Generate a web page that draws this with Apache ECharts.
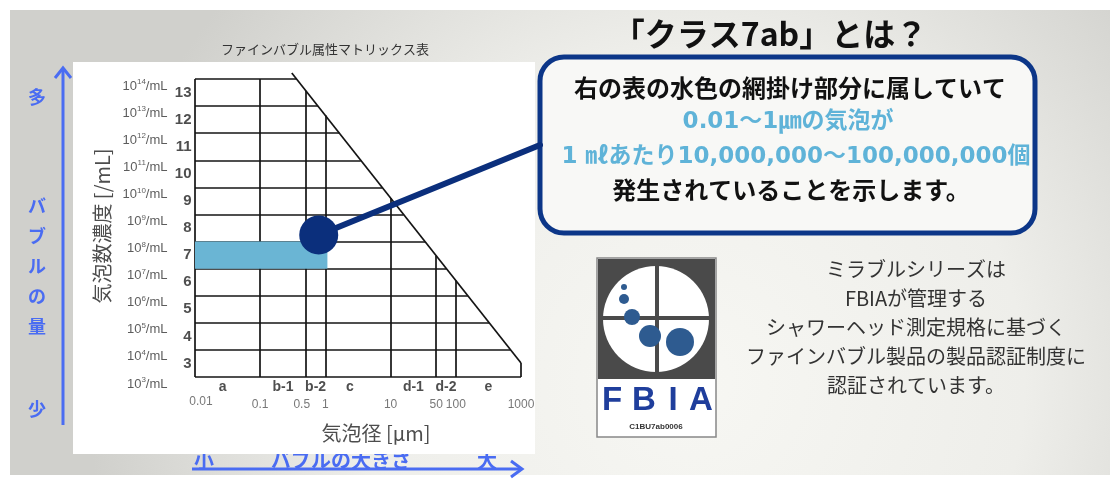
<!DOCTYPE html>
<html><head><meta charset="utf-8">
<script src="https://cdn.jsdelivr.net/npm/echarts@6/dist/echarts.min.js"></script>
<style>html,body{margin:0;padding:0;background:#fff}#c{width:1115px;height:482px}</style>
</head><body><div id="c"></div>
<script>
// ---- data ----
const sizeTicks = [0.01, 0.1, 0.5, 1, 10, 50, 100, 1000];
const sizeTickLabels = ['0.01', '0.1', '0.5', '1', '10', '50', '100', '1000'];
const sizeClasses = ['a', 'b-1', 'b-2', 'c', 'd-1', 'd-2', 'e'];
const concExponents = [3, 4, 5, 6, 7, 8, 9, 10, 11, 12, 13, 14];
const classNumbers = [3, 4, 5, 6, 7, 8, 9, 10, 11, 12, 13];
const limitLine = [[0.305, 1.66e14], [1000, 3.3e3]];
const highlight = [[0.01, 1, 1e7, 1e8]];
const markerPoint = [[0.79, 1.74e8]];
const boxLines = ['右の表の水色の網掛け部分に属していて', '0.01～1㎛の気泡が', '1 ㎖あたり10,000,000～100,000,000個', '発生されていることを示します。'];
const sideLines = ['ミラブルシリーズは', 'FBIAが管理する', 'シャワーヘッド測定規格に基づく', 'ファインバブル製品の製品認証制度に', '認証されています。'];

const JP = '"Noto Sans CJK JP", "Noto Sans", sans-serif';
const L0 = [Math.log10(limitLine[0][0]), Math.log10(limitLine[0][1])];
const L1 = [Math.log10(limitLine[1][0]), Math.log10(limitLine[1][1])];
function limitXAt(y) { const t = (Math.log10(y) - L0[1]) / (L1[1] - L0[1]); return Math.pow(10, L0[0] + t * (L1[0] - L0[0])); }
function limitYAt(x) { const t = (Math.log10(x) - L0[0]) / (L1[0] - L0[0]); return Math.pow(10, L0[1] + t * (L1[1] - L0[1])); }
const xMin = sizeTicks[0], xMax = sizeTicks[sizeTicks.length - 1];
const yMin = Math.pow(10, concExponents[0]), yMax = Math.pow(10, concExponents[concExponents.length - 1]);

const segs = [];
concExponents.forEach(k => { const y = Math.pow(10, k); segs.push([[xMin, y], [Math.min(xMax, limitXAt(y)), y]]); });
sizeTicks.forEach(x => { segs.push([[x, yMin], [x, Math.min(yMax, limitYAt(x))]]); });
segs.push(limitLine);

const catOffsets = { 'a': -5, 'c': -8 };
const tickOffsets = { '0.01': [6, -3], '0.5': [-4, 0] };

const chart = echarts.init(document.getElementById('c'), null, { renderer: 'canvas' });

const BLUE = '#4a6cf2';
const gfx = [
  { type: 'rect', z: -20, shape: { x: 10, y: 10, width: 1100, height: 465 },
    style: { fill: { type: 'radial', x: 0.62, y: 0.8, r: 1.3, colorStops: [{ offset: 0, color: '#f7f7f3' }, { offset: 0.55, color: '#eeeeea' }, { offset: 1, color: '#d0d0cc' }] } } },
  // bottom blue label (partly covered by the white panel)
  { type: 'text', z: -15, style: { x: 204, y: 470, text: '小', font: 'bold 20px ' + JP, fill: BLUE, align: 'center', verticalAlign: 'bottom' } },
  { type: 'text', z: -15, style: { x: 341, y: 470, text: 'バブルの大きさ', font: 'bold 20px ' + JP, fill: BLUE, align: 'center', verticalAlign: 'bottom' } },
  { type: 'text', z: -15, style: { x: 487, y: 470, text: '大', font: 'bold 20px ' + JP, fill: BLUE, align: 'center', verticalAlign: 'bottom' } },
  { type: 'rect', z: -10, shape: { x: 73, y: 62, width: 462, height: 392 }, style: { fill: '#ffffff' } },
  { type: 'line', z: -5, shape: { x1: 192, y1: 469, x2: 522, y2: 469 }, style: { stroke: BLUE, lineWidth: 3 } },
  { type: 'polyline', z: -5, shape: { points: [[511, 461], [522, 469], [511, 477]] }, style: { stroke: BLUE, lineWidth: 3, fill: null } },
  { type: 'line', z: -5, shape: { x1: 63, y1: 425, x2: 63, y2: 68 }, style: { stroke: BLUE, lineWidth: 3 } },
  { type: 'polyline', z: -5, shape: { points: [[55, 78], [63, 68], [71, 78]] }, style: { stroke: BLUE, lineWidth: 3, fill: null } },
  { type: 'text', z: -5, style: { x: 37, y: 97, text: '多', font: 'bold 18px ' + JP, fill: BLUE, align: 'center', verticalAlign: 'middle' } },
  { type: 'text', z: -5, style: { x: 37, y: 266, text: 'バ\nブ\nル\nの\n量', font: 'bold 18px ' + JP, lineHeight: 30, fill: BLUE, align: 'center', verticalAlign: 'middle' } },
  { type: 'text', z: -5, style: { x: 37, y: 409, text: '少', font: 'bold 18px ' + JP, fill: BLUE, align: 'center', verticalAlign: 'middle' } },
  // chart titles
  { type: 'text', z: -5, style: { x: 325, y: 49, text: 'ファインバブル属性マトリックス表', font: '13px ' + JP, fill: '#333', align: 'center', verticalAlign: 'middle' } },
  { type: 'text', z: -5, x: 102, y: 226, rotation: Math.PI / 2, style: { x: 0, y: 0, text: '気泡数濃度 [/mL]', font: '20px ' + JP, fill: '#4d4d4d', align: 'center', verticalAlign: 'middle' } },
  { type: 'text', z: -5, style: { x: 376, y: 433, text: '気泡径 [µm]', font: '20px ' + JP, fill: '#4d4d4d', align: 'center', verticalAlign: 'middle' } },
  // callout
  { type: 'text', z: -5, style: { x: 770, y: 34, text: '「クラス7ab」とは？', font: 'bold 32px ' + JP, fill: '#111', align: 'center', verticalAlign: 'middle' } },
  { type: 'rect', z: -5, shape: { x: 540, y: 57, width: 495, height: 176, r: 24 }, style: { fill: '#f8f8f6', stroke: '#0c3688', lineWidth: 5 } },
  { type: 'text', z: -4, style: { x: 790, y: 88, text: boxLines[0], font: 'bold 24px ' + JP, fill: '#111', align: 'center', verticalAlign: 'middle' } },
  { type: 'text', z: -4, style: { x: 788, y: 122, text: boxLines[1], font: 'bold 23px "DejaVu Sans", ' + JP, fill: '#5fb3d8', align: 'center', verticalAlign: 'middle' } },
  { type: 'text', z: -4, style: { x: 796, y: 157, text: boxLines[2], font: 'bold 23px "DejaVu Sans", ' + JP, fill: '#5fb3d8', align: 'center', verticalAlign: 'middle' } },
  { type: 'text', z: -4, style: { x: 791, y: 190, text: boxLines[3], font: 'bold 24px ' + JP, fill: '#111', align: 'center', verticalAlign: 'middle' } },
  // FBIA logo
  { type: 'rect', z: -5, shape: { x: 597, y: 258, width: 119, height: 179 }, style: { fill: '#ffffff', stroke: '#888', lineWidth: 1.5 } },
  { type: 'rect', z: -4, shape: { x: 598, y: 259, width: 117, height: 120 }, style: { fill: '#4a4a4a' } },
  { type: 'circle', z: -3, shape: { cx: 656, cy: 319, r: 53 }, style: { fill: '#ffffff' } },
  { type: 'line', z: -2, shape: { x1: 657, y1: 264, x2: 657, y2: 374 }, style: { stroke: '#4a4a4a', lineWidth: 4 } },
  { type: 'line', z: -2, shape: { x1: 601, y1: 318, x2: 711, y2: 318 }, style: { stroke: '#4a4a4a', lineWidth: 4 } },
  { type: 'circle', z: -1, shape: { cx: 624, cy: 287, r: 3 }, style: { fill: '#2e5b90' } },
  { type: 'circle', z: -1, shape: { cx: 624, cy: 299, r: 5 }, style: { fill: '#2e5b90' } },
  { type: 'circle', z: -1, shape: { cx: 632, cy: 317, r: 8 }, style: { fill: '#2e5b90' } },
  { type: 'circle', z: -1, shape: { cx: 650, cy: 336, r: 11 }, style: { fill: '#2e5b90' } },
  { type: 'circle', z: -1, shape: { cx: 680, cy: 342, r: 14 }, style: { fill: '#2e5b90' } },
  { type: 'text', z: -1, style: { x: 612, y: 401, text: 'F', font: 'bold 33px "Liberation Sans", sans-serif', fill: '#1f3e9c', align: 'center', verticalAlign: 'middle' } },
  { type: 'text', z: -1, style: { x: 644, y: 401, text: 'B', font: 'bold 33px "Liberation Sans", sans-serif', fill: '#1f3e9c', align: 'center', verticalAlign: 'middle' } },
  { type: 'text', z: -1, style: { x: 673, y: 401, text: 'I', font: 'bold 33px "Liberation Sans", sans-serif', fill: '#1f3e9c', align: 'center', verticalAlign: 'middle' } },
  { type: 'text', z: -1, style: { x: 701, y: 401, text: 'A', font: 'bold 33px "Liberation Sans", sans-serif', fill: '#1f3e9c', align: 'center', verticalAlign: 'middle' } },
  { type: 'text', z: -1, style: { x: 656, y: 427, text: 'C1BU7ab0006', font: 'bold 8px "Liberation Sans", sans-serif', fill: '#333', align: 'center', verticalAlign: 'middle' } },
  { type: 'text', z: -1, style: { x: 916, y: 327, text: sideLines.join('\n'), font: '20px ' + JP, lineHeight: 29, fill: '#333', align: 'center', verticalAlign: 'middle' } }
];

const labelSeriesBase = { type: 'scatter', symbol: 'circle', symbolSize: 1, itemStyle: { color: 'rgba(0,0,0,0)' }, silent: true, z: 4 };

chart.setOption({
  animation: false,
  backgroundColor: '#ffffff',
  graphic: { elements: gfx },
  grid: { left: 195, top: 79, width: 326, height: 298, containLabel: false },
  xAxis: { type: 'log', logBase: 10, min: xMin, max: xMax, show: false, splitLine: { show: false } },
  yAxis: { type: 'log', logBase: 10, min: yMin, max: yMax, show: false, splitLine: { show: false } },
  series: [
    { type: 'lines', coordinateSystem: 'cartesian2d', polyline: false, clip: false, silent: true, z: 2,
      lineStyle: { color: '#141414', width: 1.7, opacity: 1 },
      data: segs.map(s => ({ coords: s })) },
    { type: 'custom', z: 3, silent: true, clip: false,
      renderItem: (params, api) => {
        const p0 = api.coord([api.value(0), api.value(3)]);
        const p1 = api.coord([api.value(1), api.value(2)]);
        return { type: 'rect', shape: { x: p0[0], y: p0[1], width: p1[0] - p0[0] + 2, height: p1[1] - p0[1] }, style: { fill: '#6ab5d4' } };
      },
      encode: { x: [0, 1], y: [2, 3] },
      data: highlight },
    Object.assign({}, labelSeriesBase, {
      data: concExponents.map(k => ({ value: [xMin, Math.pow(10, k)], label: { formatter: '{b|10}{s|' + k + '}{b|/mL}' } })),
      label: { show: true, position: 'left', distance: 27, offset: [0, 7],
        rich: { b: { fontSize: 13, lineHeight: 16, color: '#333', fontFamily: 'Liberation Sans' }, s: { fontSize: 8, lineHeight: 16, verticalAlign: 'top', color: '#333', fontFamily: 'Liberation Sans' } } } }),
    Object.assign({}, labelSeriesBase, {
      data: classNumbers.map(n => ({ value: [xMin, Math.pow(10, n + 0.5)], label: { formatter: String(n) } })),
      label: { show: true, position: 'left', distance: 3, fontSize: 15, fontWeight: 'bold', color: '#222', fontFamily: 'Liberation Sans' } }),
    Object.assign({}, labelSeriesBase, {
      data: sizeClasses.map((c, i) => ({ value: [Math.sqrt(sizeTicks[i] * sizeTicks[i + 1]), yMin], label: { formatter: c, offset: [catOffsets[c] || 0, 0] } })),
      label: { show: true, position: 'bottom', distance: 3, fontSize: 14, fontWeight: 'bold', color: '#222', fontFamily: 'Liberation Sans' } }),
    Object.assign({}, labelSeriesBase, {
      data: sizeTicks.map((t, i) => ({ value: [t, yMin], label: { formatter: sizeTickLabels[i], offset: tickOffsets[sizeTickLabels[i]] || [0, 0] } })),
      label: { show: true, position: 'bottom', distance: 21, fontSize: 12, color: '#555', fontFamily: 'Liberation Sans' } }),
    { type: 'scatter', z: 6, silent: true, symbol: 'circle', symbolSize: 39, itemStyle: { color: '#0b2f7c', opacity: 1 }, data: markerPoint }
  ]
});

const pc = chart.convertToPixel({ gridIndex: 0 }, markerPoint[0]);
chart.setOption({ graphic: { elements: gfx.concat([
  { type: 'line', z: 5, shape: { x1: pc[0], y1: pc[1], x2: 540, y2: 145 }, style: { stroke: '#0b2f7c', lineWidth: 6, lineCap: 'round' } }
]) } });
</script></body></html>
